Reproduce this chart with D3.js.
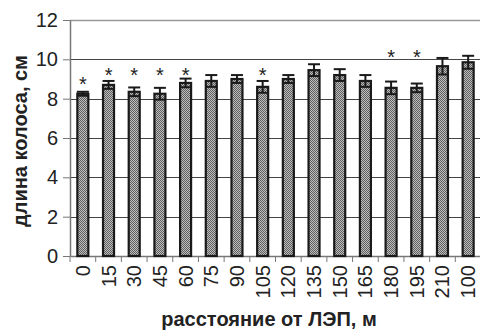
<!DOCTYPE html>
<html lang="ru">
<head>
    <meta charset="UTF-8">
    <script src="https://d3js.org/d3.v7.min.js"></script>
    <style>
        body { margin: 0; background: #fff; }
        text { font-family: "Liberation Sans", Arial, sans-serif; }
    </style>
</head>
<body>
<script>
    // distances from the power line, m
    const distances = ["0", "15", "30", "45", "60", "75", "90", "105", "120", "135", "150", "165", "180", "195", "210", "100"];
    // mean spike length, cm
    const lengths = [8.25, 8.7, 8.35, 8.25, 8.8, 8.9, 9.0, 8.6, 9.0, 9.45, 9.2, 8.9, 8.55, 8.55, 9.65, 9.85];
    // error (+/-), cm
    const errors = [0.1, 0.2, 0.22, 0.3, 0.22, 0.3, 0.2, 0.3, 0.2, 0.3, 0.3, 0.3, 0.32, 0.22, 0.42, 0.33];
    // level of the significance mark (*), null = no mark
    const starLevels = [8.95, 9.4, 9.4, 9.4, 9.4, null, null, 9.4, null, null, null, null, 10.33, 10.33, null, null];
    const yTicks = [0, 2, 4, 6, 8, 10, 12];

    const width = 480, height = 336;
    const mLeft = 70, mTop = 20, plotW = 411, plotH = 236;

    const data = distances.map((d, i) => ({ d, v: lengths[i], e: errors[i], s: starLevels[i] }));

    const svg = d3.select("body").append("svg")
        .attr("width", width)
        .attr("height", height);

    const defs = svg.append("defs");
    const pat = defs.append("pattern")
        .attr("id", "dots")
        .attr("width", 2).attr("height", 2)
        .attr("patternUnits", "userSpaceOnUse");
    pat.append("rect").attr("width", 2).attr("height", 2).attr("fill", "#bdbdbd");
    pat.append("rect").attr("width", 1).attr("height", 1).attr("fill", "#606060");
    pat.append("rect").attr("x", 1).attr("y", 1).attr("width", 1).attr("height", 1).attr("fill", "#606060");

    const x = d3.scaleBand().domain(distances).range([mLeft, mLeft + plotW]).paddingInner(0).paddingOuter(0);
    const y = d3.scaleLinear().domain([0, 12]).range([mTop + plotH, mTop]);

    // grid
    svg.selectAll("line.grid")
        .data(yTicks.filter(t => t > 0))
        .join("line")
        .attr("class", "grid")
        .attr("x1", mLeft).attr("x2", width)
        .attr("y1", d => Math.round(y(d)) + 0.5).attr("y2", d => Math.round(y(d)) + 0.5)
        .attr("stroke", d => d === 12 ? "#999" : "#444")
        .attr("stroke-width", d => d === 12 ? 1.5 : 1);

    // y axis
    const yAxis = svg.append("g")
        .attr("transform", `translate(${mLeft},0)`)
        .call(d3.axisLeft(y).tickValues(yTicks).tickSize(7).tickPadding(5).tickSizeOuter(0));
    yAxis.select(".domain").attr("stroke", "#777").attr("stroke-width", 1.5);
    yAxis.selectAll(".tick line").attr("stroke", "#777");
    yAxis.selectAll("text").attr("font-size", 20).attr("fill", "#222")
        .attr("font-family", "'Liberation Sans', Arial, sans-serif");

    // x axis
    const xAxis = svg.append("g")
        .attr("transform", `translate(0,${mTop + plotH})`)
        .call(d3.axisBottom(x).tickSize(0).tickPadding(8));
    xAxis.select(".domain").attr("stroke", "#777").attr("stroke-width", 1.5);
    xAxis.selectAll("text")
        .attr("font-size", 20).attr("fill", "#222")
        .attr("font-family", "'Liberation Sans', Arial, sans-serif")
        .attr("transform", "rotate(-90)")
        .attr("text-anchor", "end")
        .attr("x", -9).attr("y", 0).attr("dy", "0.35em");
    // ticks between categories
    xAxis.selectAll("line.sep")
        .data(distances)
        .join("line")
        .attr("class", "sep")
        .attr("x1", d => x(d)).attr("x2", d => x(d))
        .attr("y1", 0).attr("y2", 6)
        .attr("stroke", "#777");

    const bw = 11;
    const cx = d => x(d.d) + x.bandwidth() / 2;

    // bars
    svg.selectAll("rect.bar")
        .data(data)
        .join("rect")
        .attr("class", "bar")
        .attr("x", d => cx(d) - bw / 2)
        .attr("y", d => y(d.v))
        .attr("width", bw)
        .attr("height", d => y(0) - y(d.v))
        .attr("fill", "url(#dots)")
        .attr("stroke", "#1a1a1a")
        .attr("stroke-width", 2.2);

    // error bars
    const eb = svg.append("g").attr("stroke", "#1a1a1a").attr("stroke-width", 2);
    eb.selectAll("line.v").data(data).join("line").attr("class", "v")
        .attr("x1", cx).attr("x2", cx)
        .attr("y1", d => y(d.v - d.e)).attr("y2", d => y(d.v + d.e));
    eb.selectAll("line.hi").data(data).join("line").attr("class", "hi")
        .attr("x1", d => cx(d) - 6).attr("x2", d => cx(d) + 6)
        .attr("y1", d => y(d.v + d.e)).attr("y2", d => y(d.v + d.e));
    eb.selectAll("line.lo").data(data).join("line").attr("class", "lo")
        .attr("x1", d => cx(d) - 6).attr("x2", d => cx(d) + 6)
        .attr("y1", d => y(d.v - d.e)).attr("y2", d => y(d.v - d.e));

    // significance marks
    svg.selectAll("text.star")
        .data(data.filter(d => d.s !== null))
        .join("text")
        .attr("class", "star")
        .attr("x", cx)
        .attr("y", d => y(d.s) + 11)
        .attr("text-anchor", "middle")
        .attr("font-size", 20)
        .attr("fill", "#222")
        .text("*");

    // titles
    svg.append("text")
        .attr("transform", `translate(27,141) rotate(-90)`)
        .attr("text-anchor", "middle")
        .attr("font-size", 20)
        .attr("font-weight", "bold")
        .attr("fill", "#222")
        .text("длина колоса, см");

    svg.append("text")
        .attr("x", 269)
        .attr("y", 326)
        .attr("text-anchor", "middle")
        .attr("font-size", 20)
        .attr("font-weight", "bold")
        .attr("fill", "#222")
        .text("расстояние от ЛЭП, м");
</script>
</body>
</html>
